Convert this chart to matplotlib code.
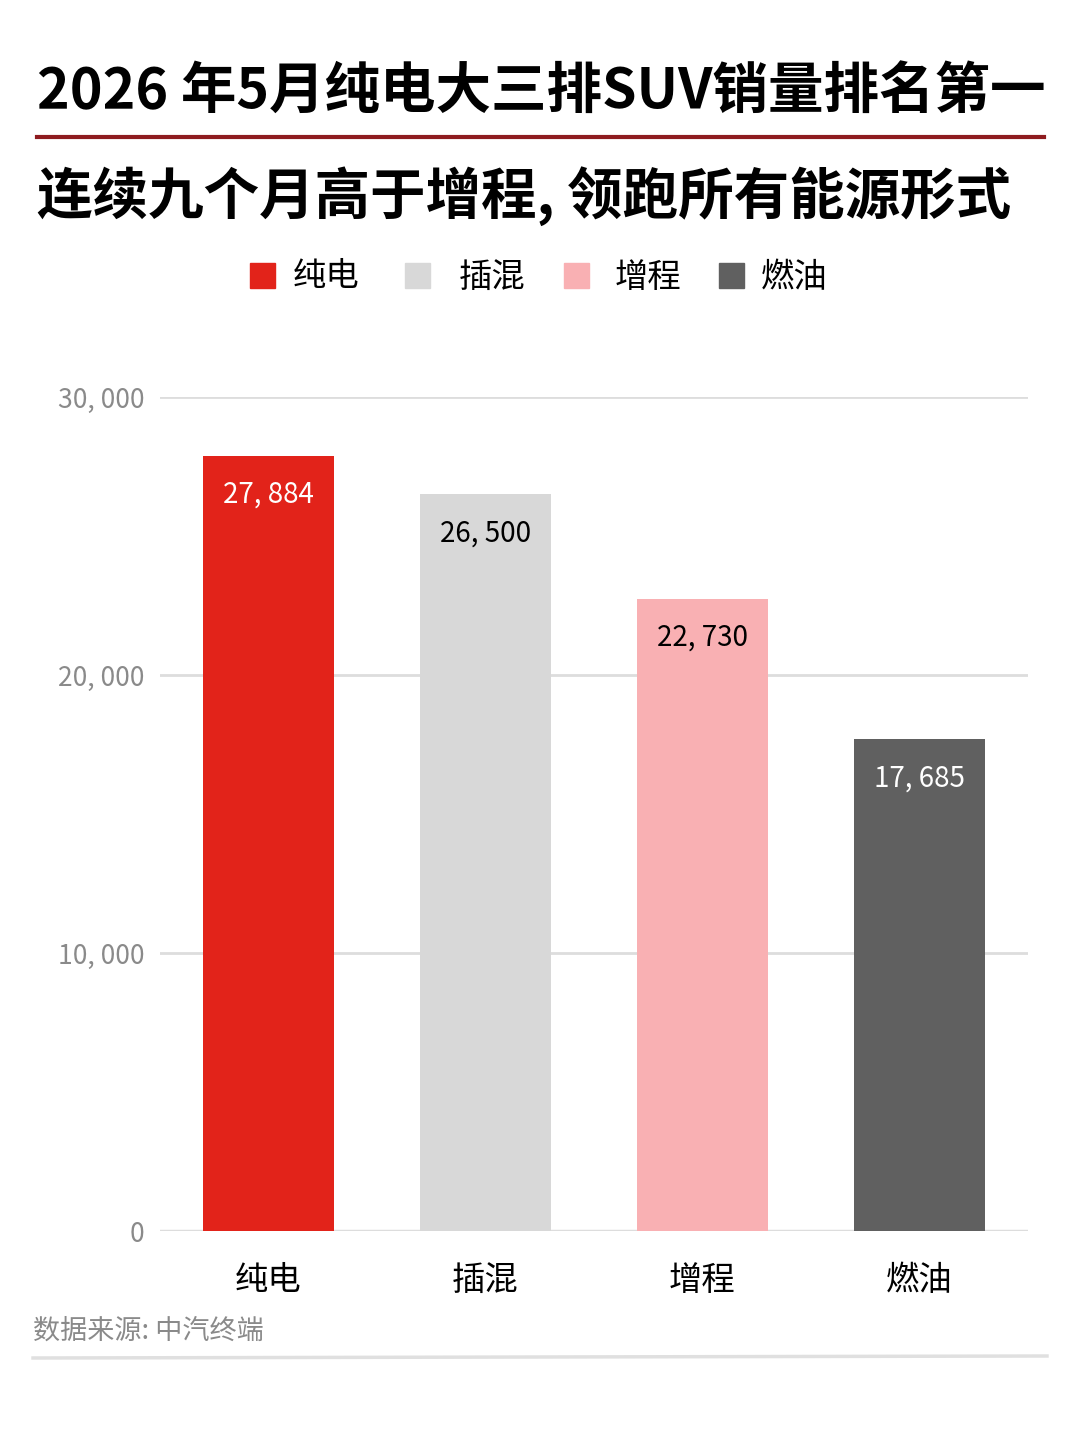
import matplotlib
matplotlib.use("Agg")
import matplotlib.pyplot as plt
from matplotlib.patches import Rectangle
from matplotlib.lines import Line2D

plt.rcParams['font.family'] = ['Noto Sans CJK SC', 'DejaVu Sans']

categories = ["纯电", "插混", "增程", "燃油"]
sales = [27884, 26500, 22730, 17685]
colors = ["#E2231A", "#D8D8D8", "#F9B0B3", "#606060"]
label_colors = ["white", "black", "black", "white"]
yticks = [0, 10000, 20000, 30000]

title1 = "2026 年5月纯电大三排SUV销量排名第一"
title2 = "连续九个月高于增程, 领跑所有能源形式"
source = "数据来源: 中汽终端"

W, H = 1080, 1437
fig = plt.figure(figsize=(W / 100, H / 100), dpi=100)

def fx(px):
    return px / W

def fy(py):
    return 1 - py / H

# titles
fig.text(fx(37), fy(92), title1, fontsize=40, fontweight='black', va='center', ha='left')
fig.add_artist(Line2D([fx(37), fx(1044)], [fy(137), fy(137)], color="#8E1B1F", lw=3))
fig.text(fx(37), fy(196), title2, fontsize=40, fontweight='black', va='center', ha='left')

# legend
sq_x = [250, 405, 564, 719]
txt_x = [293, 459, 615, 761]
for i, cat in enumerate(categories):
    fig.add_artist(Rectangle((fx(sq_x[i]), fy(288)), 25 / W, 25 / H, color=colors[i]))
    fig.text(fx(txt_x[i]), fy(277), cat, fontsize=24, va='center', ha='left')

# chart
ax = fig.add_axes([fx(160), fy(1231), (1028 - 160) / W, (1231 - 397) / H])
x = range(len(categories))
ax.bar(x, sales, width=0.6, color=colors, zorder=3)
ax.set_xlim(-0.5, len(categories) - 0.5)
ax.set_ylim(0, 30000)
ax.set_yticks(yticks)
ax.set_yticklabels([f"{v:,}".replace(",", ", ") for v in yticks], color="#8a8a8a", fontsize=19)
ax.set_xticks(list(x))
ax.set_xticklabels(categories, fontsize=24)
ax.tick_params(axis='both', length=0)
ax.tick_params(axis='y', pad=11)
ax.tick_params(axis='x', pad=23)
ax.grid(axis='y', color="#DDDDDD", lw=2, zorder=0)
ax.set_axisbelow(True)
for s in ax.spines.values():
    s.set_visible(False)
ax.axhline(0, color="#DDDDDD", lw=2.5, zorder=2)

for i, v in enumerate(sales):
    ax.text(i, v - 1400, f"{v:,}".replace(",", ", "), ha='center', va='center',
            fontsize=20, color=label_colors[i], zorder=4)

# source
fig.text(fx(33), fy(1331), source, fontsize=19.5, color="#8a8a8a", va='center', ha='left')
fig.add_artist(Line2D([fx(33), fx(1047)], [fy(1358), fy(1356)], color="#E0E0E0", lw=2.5))

fig.savefig("out.png", dpi=100, facecolor="white")
